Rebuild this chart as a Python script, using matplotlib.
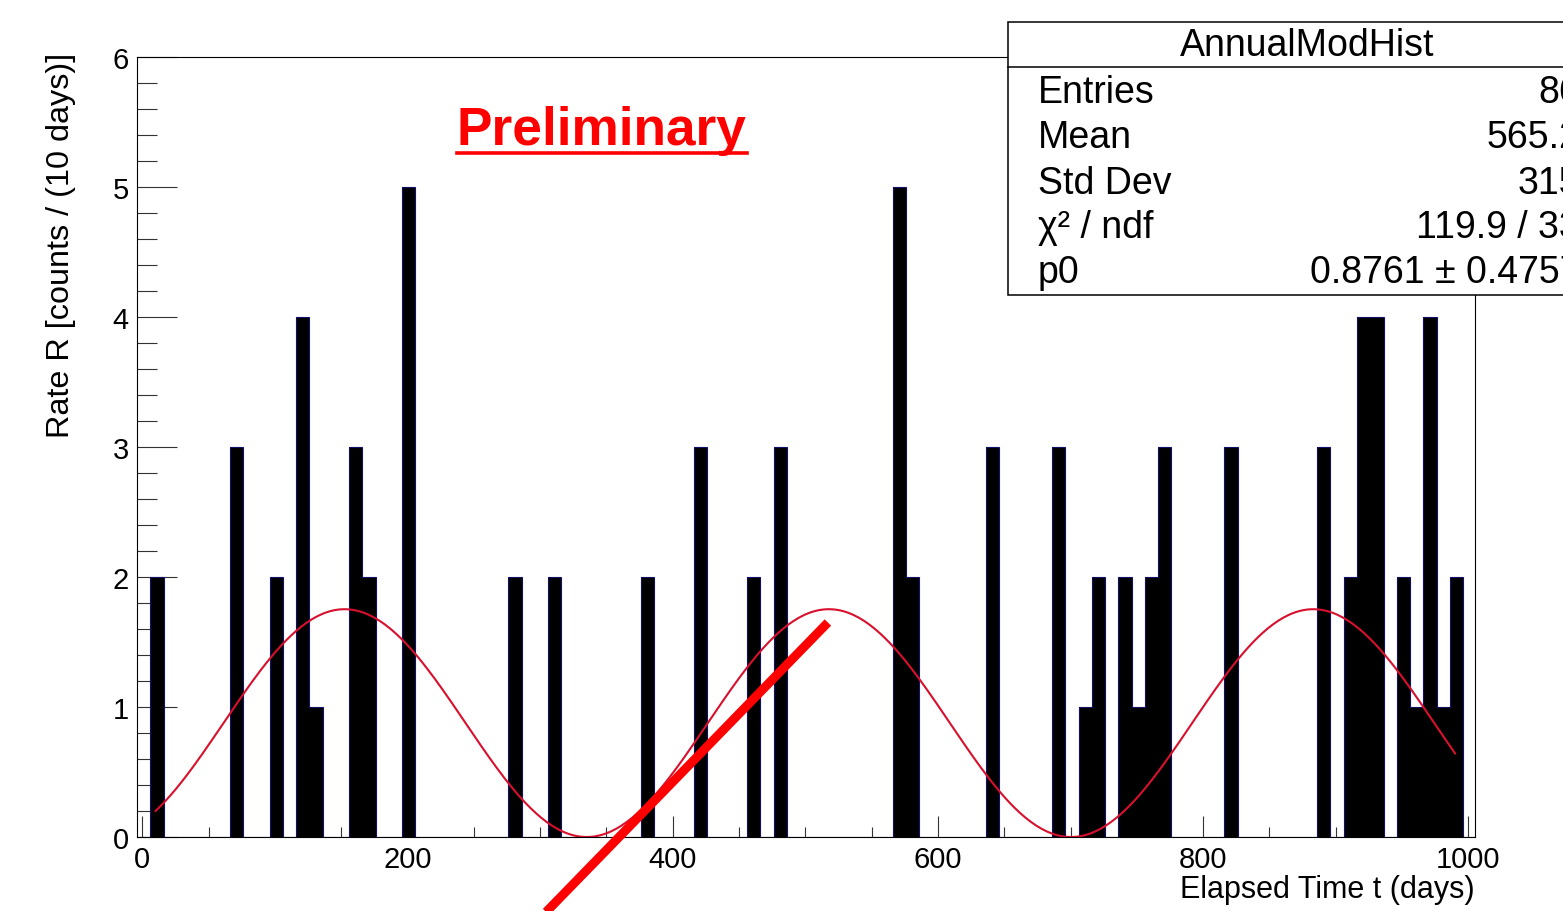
import numpy as np
import matplotlib
matplotlib.use("Agg")
import matplotlib.pyplot as plt
from matplotlib.patches import Rectangle
from matplotlib.lines import Line2D
from matplotlib.ticker import MultipleLocator

plt.rcParams['font.family'] = ['Liberation Sans', 'DejaVu Sans']

# histogram: 10-day bins, left edge of each filled bin (days) and its count
bin_width = 10
bin_first_edge = -4
n_bins = 101
bin_left = [6, 66, 96, 116, 126, 156, 166, 196, 276, 306, 376, 416, 456, 476,
            566, 576, 636, 686, 706, 716, 736, 746, 756, 766, 816, 886, 906,
            916, 926, 946, 956, 966, 976, 986]
counts = [2, 3, 2, 4, 1, 3, 2, 5, 2, 2, 2, 3, 2, 3,
          5, 2, 3, 3, 1, 2, 2, 1, 2, 3, 3, 3, 2,
          4, 4, 2, 1, 4, 1, 2]

# annual modulation fit: p0 * (1 + cos(2pi (t - t0) / T))
fit_p0 = 0.8761
fit_t0 = 152.5
fit_period = 365.25
fit_range = (10, 990)

# stats box
stats_title = "AnnualModHist"
stats_names = ["Entries", "Mean", "Std Dev", "\u03c7\u00b2 / ndf", "p0"]
stats_values = ["86", "565.2", "315", "119.9 / 33", "0.8761 \u00b1 0.4757"]

# hand drawn red stroke (data coords)
stroke_x = [517, 288]
stroke_y = [1.65, -0.75]

edges = bin_first_edge + bin_width * np.arange(n_bins + 1)
hist = np.zeros(n_bins)
for left, c in zip(bin_left, counts):
    hist[int(round((left - bin_first_edge) / bin_width))] = c

fig = plt.figure(figsize=(15.63, 9.12), dpi=100)
ax = fig.add_axes([137 / 1563, 1 - 838 / 912, (1475 - 137) / 1563, (838 - 58) / 912])

ax.stairs(hist, edges, fill=True, color='black', zorder=2)
ax.stairs(hist, edges, color='#10106a', lw=0.8, zorder=3)

t = np.linspace(fit_range[0], fit_range[1], 500)
ax.plot(t, fit_p0 * (1 + np.cos(2 * np.pi * (t - fit_t0) / fit_period)),
        color='#d8102e', lw=1.5, zorder=4)

ax.plot(stroke_x, stroke_y, color='#ff0000', lw=6.5, solid_capstyle='butt',
        clip_on=False, zorder=6)

ax.set_xlim(-4, 1005)
ax.set_ylim(0, 6)
ax.xaxis.set_major_locator(MultipleLocator(200))
ax.xaxis.set_minor_locator(MultipleLocator(50))
ax.yaxis.set_major_locator(MultipleLocator(1))
ax.yaxis.set_minor_locator(MultipleLocator(0.2))
ax.tick_params(axis='x', which='major', direction='in', length=15, width=0.8,
               color='#333333', labelsize=21, pad=6, top=False)
ax.tick_params(axis='x', which='minor', direction='in', length=7.5, width=0.8,
               color='#333333', top=False)
ax.tick_params(axis='y', which='major', direction='in', length=29, width=0.8,
               color='#333333', labelsize=21, pad=6, right=False)
ax.tick_params(axis='y', which='minor', direction='in', length=14.5, width=0.8,
               color='#333333', right=False)
for s in ax.spines.values():
    s.set_linewidth(0.8)
    s.set_zorder(5)

fig.text(1475 / 1563, 1 - 898 / 912, "Elapsed Time t (days)", fontsize=22,
         ha='right', va='baseline')
fig.text(61 / 1563, 1 - 53 / 912, "Rate R [counts / (10 days)]", fontsize=23.3,
         rotation=90, ha='center', va='top')

prelim = fig.text(457 / 1563, 1 - 145 / 912, "Preliminary", fontsize=38.3,
                  fontweight='bold', color='#ff0000', ha='left', va='baseline')
fig.canvas.draw()
bb = prelim.get_window_extent()
uy = 1 - 153.5 / 912
fig.add_artist(Line2D([bb.x0 / 1563, bb.x1 / 1563], [uy, uy], color='#ff0000',
                      lw=2.6, transform=fig.transFigure))

# stats box, partly outside the canvas
box_l, box_r = 1008 / 1563, 1.04
box_b, box_t = 1 - 296 / 912, 1 - 23 / 912
fig.add_artist(Rectangle((box_l, box_b), box_r - box_l, box_t - box_b,
                         transform=fig.transFigure, facecolor='white',
                         edgecolor='black', lw=1.1, zorder=10))
sep_y = 1 - 68 / 912
fig.add_artist(Line2D([box_l, box_r], [sep_y, sep_y], color='black', lw=1.1,
                      transform=fig.transFigure, zorder=11))
fig.text(1307 / 1563, 1 - 46 / 912, stats_title, fontsize=27, ha='center',
         va='center', zorder=12)
row_y = [93, 138, 184, 228, 273]
for name, val, y in zip(stats_names, stats_values, row_y):
    fig.text(1038 / 1563, 1 - y / 912, name, fontsize=27, ha='left',
             va='center', zorder=12)
    fig.text(1580 / 1563, 1 - y / 912, val, fontsize=27, ha='right',
             va='center', zorder=12)

fig.savefig("out.png", dpi=100)
